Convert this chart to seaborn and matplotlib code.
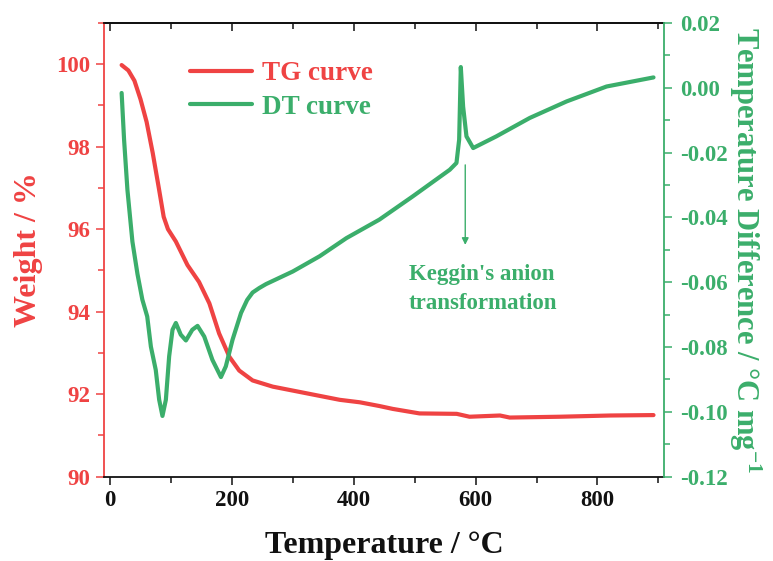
import numpy as np
import pandas as pd
import matplotlib
matplotlib.use("Agg")
import matplotlib.pyplot as plt
import seaborn as sns
from matplotlib.ticker import MultipleLocator, FormatStrFormatter

# ---- data ----
tg_temp = [19, 30, 40, 50, 60, 70, 80, 88, 95, 108, 127, 146, 163, 179, 196, 212, 234,
           267, 322, 377, 410, 442, 464, 508, 569, 590, 640, 656, 738, 821, 892]
tg_weight = [99.98, 99.85, 99.6, 99.15, 98.6, 97.85, 97.0, 96.3, 96.0, 95.7, 95.13, 94.72,
             94.2, 93.47, 92.9, 92.57, 92.33, 92.18, 92.02, 91.86, 91.8, 91.71, 91.64,
             91.53, 91.52, 91.45, 91.48, 91.43, 91.45, 91.48, 91.49]

dt_temp = [19, 23, 28.5, 36.7, 45, 53, 61, 67, 75, 80.6, 86, 91.6, 97, 102.5, 108, 116,
           124.5, 135, 143.6, 154.6, 168, 182, 190, 201, 215, 225, 234, 245, 256, 300, 344,
           388, 442, 497, 557.6, 568.6, 573, 575.7, 579.5, 585, 596, 634, 689, 749.5, 815, 892]
dt_value = [-0.0016, -0.016, -0.0315, -0.0475, -0.0575, -0.0654, -0.0706, -0.0799,
            -0.0871, -0.0963, -0.1013, -0.0963, -0.0829, -0.0747, -0.0726, -0.0762,
            -0.078, -0.0747, -0.0735, -0.0768, -0.084, -0.0893, -0.086, -0.0778,
            -0.0695, -0.0655, -0.0632, -0.0618, -0.0606, -0.0567, -0.052, -0.0464,
            -0.0407, -0.0335, -0.0253, -0.0232, -0.016, 0.0064, -0.0058, -0.015,
            -0.0186, -0.015, -0.0093, -0.0042, 0.0004, 0.0032]

x_ticks = [0, 200, 400, 600, 800]
left_ticks = [90, 92, 94, 96, 98, 100]
right_ticks = [-0.12, -0.10, -0.08, -0.06, -0.04, -0.02, 0.00, 0.02]

RED = "#EF4343"
GREEN = "#3BAE6B"
BLACK = "#111111"

sns.set_style("ticks")
plt.rcParams["font.family"] = ["Liberation Serif", "DejaVu Serif"]
plt.rcParams["font.weight"] = "bold"
plt.rcParams["mathtext.fontset"] = "custom"
plt.rcParams["mathtext.rm"] = "Liberation Serif:bold"
plt.rcParams["mathtext.it"] = "Liberation Serif:bold"
plt.rcParams["mathtext.bf"] = "Liberation Serif:bold"

fig = plt.figure(figsize=(7.73, 5.61), dpi=100)
ax = fig.add_axes([0.1345, 0.1506, 0.8596 - 0.1345, 0.959 - 0.1506])
ax2 = ax.twinx()

tg_df = pd.DataFrame({"T": tg_temp, "W": tg_weight})
dt_df = pd.DataFrame({"T": dt_temp, "D": dt_value})

sns.lineplot(data=tg_df, x="T", y="W", ax=ax, color=RED, lw=3.0, sort=False,
             estimator=None, label="TG curve", legend=False)
sns.lineplot(data=dt_df, x="T", y="D", ax=ax2, color=GREEN, lw=3.0, sort=False,
             estimator=None, label="DT curve", legend=False)
for ln in ax.get_lines() + ax2.get_lines():
    ln.set_solid_joinstyle("round")
    ln.set_solid_capstyle("round")

ax.set_xlim(-10, 910)
ax.set_ylim(90, 101)
ax2.set_ylim(-0.12, 0.02)

TICK_FS = 16.5
LABEL_FS = 23

# x axis
ax.set_xticks(x_ticks)
ax.xaxis.set_minor_locator(MultipleLocator(100))
ax.tick_params(axis="x", which="major", direction="out", length=6, width=1.1,
               labelsize=TICK_FS, colors=BLACK, pad=4)
ax.tick_params(axis="x", which="minor", direction="out", length=4, width=1.1, colors=BLACK)

top = ax.secondary_xaxis("top")
top.set_xticks(x_ticks)
top.xaxis.set_minor_locator(MultipleLocator(100))
top.tick_params(axis="x", which="major", direction="in", length=6, width=1.1,
                labeltop=False, colors=BLACK)
top.tick_params(axis="x", which="minor", direction="in", length=4, width=1.1, colors=BLACK)
top.spines["top"].set_color(BLACK)
top.spines["top"].set_linewidth(1.3)

# left axis
ax.set_yticks(left_ticks)
ax.yaxis.set_minor_locator(MultipleLocator(1))
ax.tick_params(axis="y", which="major", direction="out", length=6, width=1.1,
               labelsize=TICK_FS, colors=RED, pad=4)
ax.tick_params(axis="y", which="minor", direction="out", length=4, width=1.1, colors=RED)

# right axis
ax2.set_yticks(right_ticks)
ax2.yaxis.set_major_formatter(FormatStrFormatter("%.2f"))
ax2.yaxis.set_minor_locator(MultipleLocator(0.01))
ax2.tick_params(axis="y", which="major", direction="out", length=6, width=1.1,
                labelsize=TICK_FS, colors=GREEN, pad=5)
ax2.tick_params(axis="y", which="minor", direction="out", length=4, width=1.1, colors=GREEN)

for lab in ax.get_yticklabels() + ax2.get_yticklabels() + ax.get_xticklabels():
    lab.set_fontweight("bold")

# spines
ax.spines["left"].set_color(RED)
ax.spines["right"].set_visible(False)
ax.spines["bottom"].set_color(BLACK)
ax.spines["top"].set_color(BLACK)
ax2.spines["left"].set_visible(False)
ax2.spines["top"].set_visible(False)
ax2.spines["bottom"].set_visible(False)
ax2.spines["right"].set_color(GREEN)
for s in ["left", "bottom", "top"]:
    ax.spines[s].set_linewidth(1.3)
ax2.spines["right"].set_linewidth(1.3)

# labels
ax.set_xlabel("Temperature / °C", fontsize=LABEL_FS, fontweight="bold", color=BLACK, labelpad=14)
ax.set_ylabel("Weight / %", fontsize=LABEL_FS, fontweight="bold", color=RED, labelpad=9)
ax2.set_ylabel("Temperature Difference / °C mg$^{-1}$", fontsize=22,
               fontweight="bold", color=GREEN, rotation=270, labelpad=26)

# legend
h1 = ax.get_lines()[0]
h2 = ax2.get_lines()[0]
leg = ax2.legend([h1, h2], ["TG curve", "DT curve"], loc="upper left",
                 bbox_to_anchor=(0.134, 0.94), frameon=False,
                 prop={"family": "Liberation Serif", "weight": "bold", "size": 19.5},
                 handlelength=2.3, handletextpad=0.35, labelspacing=0.32,
                 borderaxespad=0, labelcolor="linecolor")

# annotation
ax2.annotate("", xy=(583, -0.0485), xytext=(583, -0.0238),
             arrowprops=dict(arrowstyle="-|>", color=GREEN, lw=1.0, mutation_scale=10,
                             shrinkA=0, shrinkB=0))
ax2.text(490, -0.0545, "Keggin's anion\ntransformation", color=GREEN, fontsize=16.5,
         fontweight="bold", ha="left", va="top", linespacing=1.45)

fig.savefig("out.png", dpi=100)
